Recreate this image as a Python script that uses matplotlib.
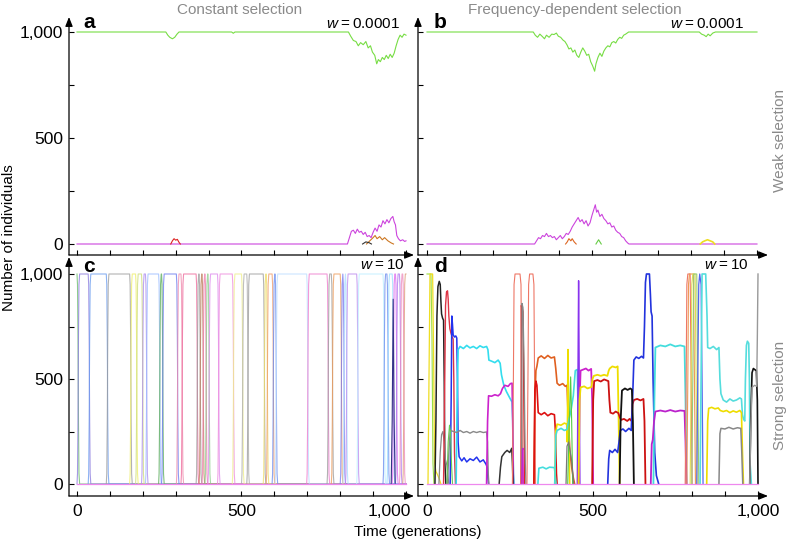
import matplotlib
matplotlib.use("Agg")
import matplotlib.pyplot as plt
import matplotlib.transforms as mtransforms

plt.rcParams['font.family'] = ['Liberation Sans', 'DejaVu Sans']
plt.rcParams['mathtext.fontset'] = 'custom'
plt.rcParams['mathtext.it'] = 'Liberation Sans:italic'
plt.rcParams['mathtext.rm'] = 'Liberation Sans'

# ---------------- data ----------------
X_TICKS = list(range(0, 1001, 100))
Y_TICKS = [0, 250, 500, 750, 1000]
Y_LABELS = ['0', '', '500', '', '1,000']
X_LABELS = ['0', '', '', '', '', '500', '', '', '', '', '1,000']
TITLES = ['Constant selection', 'Frequency-dependent selection']
ROW_LABELS = ['Weak selection', 'Strong selection']
W_LABELS = ['0.0001', '0.0001', '10', '10']
PANEL_LETTERS = ['a', 'b', 'c', 'd']

# panel a (constant, weak)
A_GREEN = [(0, 1000), (270, 1000), (276, 985), (282, 975), (290, 968), (297, 975), (304, 990), (310, 1000),
           (470, 1000), (475, 994), (480, 1000), (825, 1000), (832, 980), (840, 960), (848, 955), (855, 935),
           (862, 950), (870, 940), (878, 955), (885, 925), (892, 935), (898, 905), (905, 890), (911, 850),
           (916, 870), (922, 860), (928, 880), (934, 870), (940, 890), (946, 875), (952, 895), (958, 880),
           (964, 900), (970, 935), (976, 965), (982, 985), (988, 975), (994, 990), (1000, 985)]
A_MAGENTA = [(0, 0), (822, 0), (828, 30), (834, 60), (840, 65), (846, 50), (852, 70), (858, 55), (864, 60),
             (870, 45), (876, 55), (882, 35), (888, 40), (894, 30), (900, 55), (906, 75), (912, 60), (918, 90),
             (924, 80), (930, 110), (936, 95), (942, 115), (948, 100), (954, 120), (960, 130), (964, 105),
             (968, 90), (972, 40), (977, 25), (983, 15), (990, 20), (996, 12), (1000, 15)]
A_RED = [(285, 0), (290, 15), (295, 25), (300, 18), (305, 22), (310, 8), (314, 0)]
A_ORANGE = [(880, 0), (890, 15), (900, 30), (906, 40), (912, 25), (920, 35), (928, 20), (935, 30),
            (945, 15), (955, 5), (962, 0)]
A_BLACK = [(868, 0), (878, 10), (888, 6), (895, 0)]

# panel b (frequency-dependent, weak)
B_GREEN = [(0, 1000), (322, 1000), (328, 985), (335, 975), (342, 990), (350, 978), (356, 968), (362, 985),
           (370, 975), (378, 990), (385, 988), (392, 995), (398, 980), (405, 975), (412, 962), (418, 955),
           (424, 940), (430, 920), (436, 925), (442, 905), (448, 915), (454, 890), (460, 880), (466, 905),
           (472, 925), (478, 910), (484, 890), (490, 895), (496, 860), (502, 840), (508, 815), (512, 850),
           (518, 880), (524, 900), (530, 885), (536, 910), (542, 925), (548, 935), (554, 930), (560, 950),
           (566, 955), (572, 948), (578, 965), (584, 975), (590, 970), (596, 985), (602, 990), (611, 1000),
           (825, 1000), (832, 990), (840, 985), (846, 978), (852, 990), (858, 982), (866, 995), (874, 1000),
           (1000, 1000)]
B_MAGENTA = [(0, 0), (326, 0), (332, 15), (338, 30), (344, 25), (350, 40), (356, 35), (362, 50), (368, 35),
             (374, 40), (380, 30), (386, 35), (392, 20), (398, 30), (404, 40), (410, 25), (416, 35), (422, 50),
             (428, 45), (434, 60), (440, 80), (446, 95), (452, 110), (458, 125), (464, 105), (470, 115),
             (476, 95), (482, 110), (488, 85), (494, 100), (500, 135), (506, 165), (510, 185), (514, 150),
             (518, 160), (524, 130), (530, 140), (536, 120), (542, 110), (548, 95), (554, 100), (560, 80),
             (566, 85), (572, 65), (578, 55), (584, 50), (590, 35), (596, 30), (602, 15), (608, 5), (612, 0),
             (1000, 0)]
B_ORANGE = [(420, 0), (425, 10), (430, 25), (436, 15), (440, 25), (446, 10), (452, 0)]
B_GREEN2 = [(512, 0), (516, 10), (520, 20), (524, 10), (528, 0)]
B_YELLOW = [(828, 0), (835, 10), (842, 15), (850, 20), (858, 15), (866, 10), (872, 0)]

# panel c (constant, strong): times at which a new type takes over
C_SWITCH = [0, 34, 89, 160, 178, 196, 208, 248, 257, 302, 316, 362, 371, 380, 389, 398, 427, 472, 500,
            516, 566, 575, 593, 602, 698, 760, 773, 800, 808, 816, 850, 930, 942, 958, 968, 980, 990]
C_COLORS = ['#66bb66', '#8877dd', '#6699ee', '#999999', '#eeee66', '#ccdd77', '#aa88ee', '#99bbff',
            '#55aa55', '#6677ee', '#ee88aa', '#ee6699', '#999999', '#bb7755', '#ee77aa', '#88cc88',
            '#dd88ee', '#ee88dd', '#eeee88', '#aaaaaa', '#999999', '#eedd66', '#ee9966', '#6688ee',
            '#bbddff', '#ee77cc', '#999999', '#ee9955', '#7777ee', '#aaddff', '#bb88ee', '#bbeeff',
            '#6688ee', '#99ddff', '#dd66ee', '#aa77ee', '#ee88bb', '#dd9977']
C_NAVY = [(955, 0), (958, 300), (961, 880), (964, 300), (967, 0)]
SWEEP_DT = [0, 1.5, 3, 4.5, 6, 8]
SWEEP_FRAC = [0, 0.05, 0.3, 0.7, 0.95, 1.0]

# panel d (frequency-dependent, strong)
D_GREEN0 = [(0, 1000), (12, 1000), (15, 700), (18, 100), (21, 0)]
D_YELLOW0 = [(3, 0), (6, 500), (9, 1000), (17, 1000), (20, 600), (23, 100), (27, 60), (33, 40), (38, 20), (42, 0)]
D_BLACK1 = [(24, 0), (27, 300), (30, 800), (33, 940), (37, 965), (40, 950), (42, 870), (44, 810), (47, 790),
            (50, 780), (52, 500), (54, 100), (57, 0)]
D_GRAY1 = [(36, 0), (40, 150), (44, 235), (48, 250), (52, 200), (55, 120), (60, 90), (63, 40), (66, 0)]
D_RED1 = [(50, 0), (53, 400), (56, 850), (59, 915), (62, 920), (64, 880), (66, 800), (69, 740), (72, 720),
          (76, 700), (79, 690), (81, 500), (83, 150), (86, 0)]
D_BLUE1 = [(70, 0), (73, 400), (75, 800), (77, 760), (79, 710), (83, 700), (87, 705), (90, 695), (92, 500),
           (94, 200), (97, 130), (105, 110), (112, 125), (120, 105), (130, 120), (140, 112), (150, 128),
           (160, 105), (170, 115), (178, 95), (182, 80), (184, 30), (186, 0)]
D_CYAN1 = [(88, 0), (91, 400), (94, 640), (100, 655), (110, 645), (120, 660), (130, 648), (140, 655),
           (150, 645), (160, 658), (170, 650), (180, 655), (184, 640), (187, 590), (195, 585), (205, 578),
           (215, 590), (221, 575), (225, 520), (232, 470), (240, 440), (250, 410), (257, 390), (259, 300),
           (261, 50), (263, 0)]
D_GRAY2 = [(62, 0), (66, 150), (70, 255), (80, 250), (90, 245), (100, 255), (110, 245), (120, 250),
           (130, 242), (140, 250), (150, 245), (160, 250), (170, 245), (180, 248), (183, 200), (185, 50), (187, 0)]
D_GREEN1 = [(60, 0), (64, 200), (68, 280), (71, 250), (74, 100), (77, 0)]
D_MAGENTA1 = [(180, 0), (183, 300), (186, 420), (195, 418), (205, 425), (215, 420), (222, 430), (228, 455),
              (235, 470), (245, 465), (252, 478), (257, 480), (259, 300), (261, 0)]
D_BLACK2 = [(218, 0), (222, 80), (226, 130), (235, 150), (242, 160), (250, 150), (256, 170), (258, 100), (260, 0)]
D_SALMON1 = [(258, 0), (261, 500), (263, 950), (266, 1000), (281, 1000), (284, 950), (286, 500), (289, 0)]
D_RED2 = [(284, 0), (285, 850), (288, 835), (290, 820), (292, 500), (295, 0)]
D_GRAY2B = [(286, 0), (287, 860), (290, 840), (293, 600), (297, 100), (299, 0)]
D_MAGENTA_S = [(286, 0), (288, 160), (290, 170), (291, 0)]
D_SALMON2 = [(302, 0), (305, 500), (307, 950), (310, 1000), (320, 1000), (323, 950), (325, 500), (328, 0)]
D_ORANGE1 = [(323, 0), (326, 400), (329, 540), (332, 560), (336, 600), (345, 610), (355, 598), (365, 612),
             (375, 600), (385, 605), (389, 550), (393, 480), (400, 470), (410, 478), (418, 465), (423, 470),
             (427, 300), (432, 150), (437, 80), (442, 30), (446, 0)]
D_RED3 = [(323, 0), (326, 450), (329, 490), (332, 470), (336, 340), (345, 330), (355, 340), (365, 325),
          (375, 335), (385, 330), (388, 250), (391, 50), (393, 0)]
D_CYAN2 = [(335, 0), (338, 75), (350, 80), (360, 72), (370, 80), (385, 78), (388, 30), (390, 0)]
D_YELLOW2 = [(386, 0), (389, 250), (393, 285), (405, 280), (415, 290), (422, 285), (424, 200), (426, 640),
             (428, 300), (431, 0)]
D_CYAN3 = [(386, 0), (389, 230), (393, 255), (405, 265), (415, 255), (423, 260), (428, 300), (435, 350),
           (442, 420), (448, 540), (454, 545), (457, 300), (460, 0)]
D_GREEN2 = [(425, 0), (430, 300), (434, 510), (437, 300), (440, 0)]
D_GRAY3 = [(420, 0), (423, 180), (428, 200), (433, 150), (438, 100), (441, 40), (443, 0)]
D_PURPLE1 = [(454, 0), (456, 500), (458, 968), (460, 500), (462, 0)]
D_MAGENTA2 = [(458, 0), (461, 400), (464, 540), (472, 545), (480, 550), (488, 540), (496, 548), (499, 400), (502, 0)]
D_YELLOW3 = [(458, 0), (461, 400), (464, 460), (475, 465), (485, 455), (497, 462), (500, 500), (504, 515),
             (515, 520), (525, 515), (535, 520), (545, 515), (549, 540), (552, 550), (560, 560), (570, 555),
             (576, 560), (579, 300), (582, 0)]
D_RED4 = [(499, 0), (502, 400), (505, 490), (515, 495), (525, 488), (535, 498), (548, 490), (551, 400),
          (554, 340), (562, 335), (570, 345), (578, 338), (582, 320), (586, 305), (595, 310), (605, 300),
          (612, 310), (618, 300), (621, 380), (625, 400), (635, 405), (645, 398), (654, 405), (657, 300), (660, 0)]
D_BLUE2 = [(546, 0), (549, 120), (552, 160), (560, 150), (568, 165), (576, 150), (580, 200), (584, 255),
           (592, 262), (600, 250), (610, 265), (617, 255), (621, 400), (625, 590), (632, 605), (640, 598),
           (648, 608), (654, 600), (657, 750), (660, 960), (663, 1000), (672, 1000), (675, 900), (677, 820),
           (680, 800), (683, 500), (688, 150), (693, 40), (700, 0)]
D_BLACK3 = [(582, 0), (585, 300), (589, 445), (598, 455), (606, 448), (614, 455), (619, 450), (622, 300), (625, 0)]
D_CYAN4 = [(684, 0), (687, 400), (690, 650), (705, 660), (720, 655), (735, 665), (750, 655), (765, 660),
           (778, 655), (781, 400), (784, 0)]
D_MAGENTA3 = [(676, 0), (679, 190), (682, 210), (686, 300), (690, 345), (705, 350), (720, 345), (735, 352),
              (750, 345), (765, 350), (778, 348), (781, 200), (784, 0)]
D_SALMON3 = [(780, 0), (783, 500), (785, 950), (788, 1000), (795, 1000), (798, 500), (801, 0)]
D_ORANGE2 = [(785, 0), (788, 500), (790, 950), (793, 1000), (805, 1000), (808, 500), (811, 0)]
D_YELLOW4 = [(795, 0), (798, 500), (800, 950), (803, 1000), (810, 1000), (813, 500), (816, 0)]
D_GREEN3 = [(800, 0), (803, 500), (806, 1000), (815, 1000), (818, 500), (821, 0)]
D_BLUE3 = [(815, 0), (818, 500), (821, 950), (824, 1000), (828, 950), (831, 500), (834, 0)]
D_CYAN5 = [(825, 0), (828, 500), (831, 1000), (842, 1000), (846, 800), (848, 650), (855, 645), (865, 655),
           (875, 640), (882, 650), (885, 500), (888, 430), (895, 400), (905, 390), (915, 405), (925, 395),
           (935, 400), (945, 410), (950, 405), (953, 330), (956, 310), (960, 300), (962, 500), (965, 660),
           (968, 680), (972, 670), (974, 500), (976, 100), (980, 0)]
D_YELLOW5 = [(845, 0), (848, 300), (851, 360), (860, 365), (870, 358), (880, 362), (886, 350), (895, 345),
             (905, 350), (915, 340), (925, 348), (935, 342), (945, 350), (950, 340), (953, 150), (956, 0)]
D_GRAY4 = [(882, 0), (885, 240), (888, 265), (900, 262), (912, 270), (925, 262), (938, 268), (948, 265),
           (951, 150), (954, 0)]
D_BLACK4 = [(975, 0), (978, 300), (982, 530), (986, 550), (990, 545), (995, 540), (998, 400), (1000, 0)]
D_GRAY5 = [(975, 0), (978, 250), (982, 460), (990, 470), (996, 465), (998, 700), (1000, 1000)]
BASELINE = [(0, 0), (1000, 0)]

# ---------------- figure ----------------
W, H = 788, 541
fig = plt.figure(figsize=(W / 100, H / 100), dpi=100)


def fx(px):
    return px / W


def fy(py):
    return 1 - py / H


def make_axes(left, right, top, bottom, x0, x1000, y0, y1000):
    ax = fig.add_axes([fx(left), fy(bottom), (right - left) / W, (bottom - top) / H])
    sx = (x1000 - x0) / 1000.0
    sy = (y0 - y1000) / 1000.0
    ax.set_xlim((left - x0) / sx, (right - x0) / sx)
    ax.set_ylim((y0 - bottom) / sy, (y0 - top) / sy)
    for s in ax.spines.values():
        s.set_visible(False)
    ax.patch.set_alpha(0)
    arrow = dict(arrowstyle='-|>,head_length=0.55,head_width=0.22', lw=0.9, color='black',
                 shrinkA=0, shrinkB=0)
    ax.annotate('', xy=(1, 0), xytext=(0, 0), xycoords='axes fraction', arrowprops=arrow,
                annotation_clip=False)
    ax.annotate('', xy=(0, 1), xytext=(0, 0), xycoords='axes fraction', arrowprops=arrow,
                annotation_clip=False)
    ax.set_xticks(X_TICKS)
    ax.set_yticks(Y_TICKS)
    ax.tick_params(direction='in', length=3.5, width=0.8, labelsize=12.5, pad=4)
    return ax


axA = make_axes(69, 414, 17, 255, 77, 406, 244, 32)
axB = make_axes(418, 768, 17, 255, 427, 757, 244, 32)
axC = make_axes(69, 414, 257, 496, 77, 406, 484, 274)
axD = make_axes(418, 768, 257, 496, 427, 758, 484, 274)

for ax, yl, xl in [(axA, True, False), (axB, False, False), (axC, True, True), (axD, False, True)]:
    ax.set_yticklabels(Y_LABELS if yl else [''] * len(Y_TICKS))
    ax.set_xticklabels(X_LABELS if xl else [''] * len(X_TICKS))
    ax.tick_params(axis='x', pad=6)

# the last label of panel c sits just left of panel d's "0"
last_lbl = axC.get_xticklabels()[-1]
last_lbl.set_horizontalalignment('right')
last_lbl.set_transform(last_lbl.get_transform() +
                       mtransforms.ScaledTranslation(5 / 100, 0, fig.dpi_scale_trans))


def draw(ax, pts, color, lw=0.8, alpha=1.0):
    ax.plot([p[0] for p in pts], [p[1] for p in pts], color=color, lw=lw, alpha=alpha,
            solid_joinstyle='round', clip_on=False)


# panel a
draw(axA, A_MAGENTA, '#cc44dd')
draw(axA, A_RED, '#dd2222')
draw(axA, A_ORANGE, '#cc7722')
draw(axA, A_BLACK, '#333333')
draw(axA, A_GREEN, '#77dd44')

# panel b
draw(axB, B_MAGENTA, '#cc44dd')
draw(axB, B_ORANGE, '#dd6622')
draw(axB, B_GREEN2, '#66cc44')
draw(axB, B_YELLOW, '#eedd22', lw=1.2)
draw(axB, B_GREEN, '#77dd44')

# panel c
n_types = len(C_SWITCH) + 1
for k in range(n_types):
    pts = []
    if k == 0:
        pts.append((0, 1000))
    else:
        s = C_SWITCH[k - 1]
        pts += [(s + d, 1000 * f) for d, f in zip(SWEEP_DT, SWEEP_FRAC)]
    if k < n_types - 1:
        e = C_SWITCH[k]
        pts += [(e + d, 1000 * (1 - f)) for d, f in zip(SWEEP_DT, SWEEP_FRAC)]
        if pts[-1][0] < 1000:
            pts.append((1000, 0))
    else:
        pts.append((1000, 1000))
    pts = [(min(t, 1000), y) for t, y in pts]
    draw(axC, pts, C_COLORS[k], lw=0.8, alpha=0.75)
draw(axC, C_NAVY, '#333388', lw=0.8)
draw(axC, BASELINE, '#ee88ee', lw=0.9)

# panel d
d_lines = [
    (D_GREEN0, '#99dd44', 0.8), (D_YELLOW0, '#eedd22', 0.9), (D_BLACK1, '#222222', 1.1),
    (D_GRAY1, '#888888', 0.9), (D_RED1, '#dd3344', 1.0), (D_BLUE1, '#2233ee', 1.1),
    (D_CYAN1, '#33ddee', 1.2), (D_GRAY2, '#888888', 1.0), (D_GREEN1, '#66cc55', 0.8),
    (D_MAGENTA1, '#cc22cc', 1.2), (D_BLACK2, '#333333', 1.1), (D_SALMON1, '#ee7766', 0.8),
    (D_RED2, '#dd2222', 1.0), (D_GRAY2B, '#888888', 0.9), (D_MAGENTA_S, '#cc22cc', 0.9),
    (D_SALMON2, '#ee7766', 0.8), (D_ORANGE1, '#e06020', 1.2), (D_RED3, '#dd1111', 1.2),
    (D_CYAN2, '#44dddd', 1.2), (D_YELLOW2, '#eedd00', 1.2), (D_CYAN3, '#44dddd', 1.2),
    (D_GREEN2, '#55cc44', 0.8), (D_GRAY3, '#777777', 0.9), (D_PURPLE1, '#8833ee', 1.0),
    (D_MAGENTA2, '#cc22cc', 1.3), (D_YELLOW3, '#eedd00', 1.3), (D_RED4, '#cc1111', 1.3),
    (D_BLUE2, '#2233dd', 1.2), (D_BLACK3, '#111111', 1.3), (D_CYAN4, '#44dddd', 1.3),
    (D_MAGENTA3, '#bb22cc', 1.3), (D_SALMON3, '#ee7766', 0.8), (D_ORANGE2, '#ee9955', 0.8),
    (D_YELLOW4, '#dddd55', 0.8), (D_GREEN3, '#99cc77', 0.8), (D_BLUE3, '#5566ee', 0.9),
    (D_CYAN5, '#55dddd', 1.2), (D_YELLOW5, '#eedd00', 1.2), (D_GRAY4, '#888888', 1.1),
    (D_BLACK4, '#111111', 1.2), (D_GRAY5, '#999999', 1.0),
]
for pts, col, lw in d_lines:
    draw(axD, pts, col, lw=lw)
draw(axD, BASELINE, '#ee88ee', lw=0.9)

# ---------------- text ----------------
gray = '#8a8a8a'
fig.text(fx(240), fy(10), TITLES[0], color=gray, fontsize=11, ha='center', va='center')
fig.text(fx(575), fy(10), TITLES[1], color=gray, fontsize=11, ha='center', va='center')
fig.text(fx(780), fy(141), ROW_LABELS[0], color=gray, fontsize=11, ha='center', va='center', rotation=90)
fig.text(fx(780), fy(395), ROW_LABELS[1], color=gray, fontsize=11, ha='center', va='center', rotation=90)
fig.text(fx(9), fy(238), 'Number of individuals', fontsize=11, ha='center', va='center', rotation=90)
fig.text(fx(418), fy(532), 'Time (generations)', fontsize=11, ha='center', va='center')

letter_pos = [(83, 22), (434, 22), (83, 266), (434, 266)]
w_pos = [(400, 24), (744, 24), (404, 265), (748, 265)]
for (lx, ly), (wx, wy), let, wl in zip(letter_pos, w_pos, PANEL_LETTERS, W_LABELS):
    fig.text(fx(lx), fy(ly), let, fontsize=15, fontweight='bold', ha='left', va='center')
    fig.text(fx(wx), fy(wy), r'$w$' + '\u2009=\u2009' + wl, fontsize=11, ha='right', va='center')

fig.savefig('out.png', dpi=100)
